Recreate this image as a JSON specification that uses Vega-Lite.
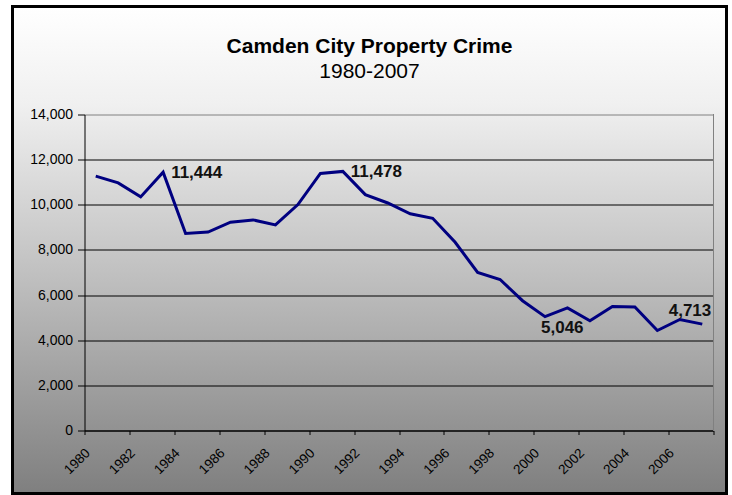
{
  "$schema": "https://vega.github.io/schema/vega-lite/v6.json",
  "width": 714,
  "height": 487,
  "autosize": {"type": "none"},
  "padding": {"left": 12.5, "top": 6.5, "right": 5.5, "bottom": 1.5},
  "background": "white",
  "title": {
    "text": "Camden City Property Crime",
    "subtitle": "1980-2007",
    "anchor": "middle",
    "offset": -75,
    "font": "Liberation Sans",
    "fontSize": 21,
    "fontWeight": "bold",
    "color": "black",
    "subtitleFont": "Liberation Sans",
    "subtitleFontSize": 21,
    "subtitleFontWeight": "normal",
    "subtitleColor": "black",
    "subtitlePadding": 4
  },
  "data": {
    "values": [
      {"year": 1980, "crimes": 11270},
      {"year": 1981, "crimes": 10970},
      {"year": 1982, "crimes": 10350},
      {"year": 1983, "crimes": 11444},
      {"year": 1984, "crimes": 8730},
      {"year": 1985, "crimes": 8790},
      {"year": 1986, "crimes": 9230},
      {"year": 1987, "crimes": 9330},
      {"year": 1988, "crimes": 9110},
      {"year": 1989, "crimes": 10010},
      {"year": 1990, "crimes": 11390},
      {"year": 1991, "crimes": 11478},
      {"year": 1992, "crimes": 10450},
      {"year": 1993, "crimes": 10080},
      {"year": 1994, "crimes": 9600},
      {"year": 1995, "crimes": 9400},
      {"year": 1996, "crimes": 8340},
      {"year": 1997, "crimes": 7000},
      {"year": 1998, "crimes": 6690},
      {"year": 1999, "crimes": 5750},
      {"year": 2000, "crimes": 5046},
      {"year": 2001, "crimes": 5430},
      {"year": 2002, "crimes": 4860},
      {"year": 2003, "crimes": 5490},
      {"year": 2004, "crimes": 5470},
      {"year": 2005, "crimes": 4430},
      {"year": 2006, "crimes": 4920},
      {"year": 2007, "crimes": 4713}
    ]
  },
  "layer": [
    {
      "mark": {"type": "rule", "color": "#808080", "strokeWidth": 1},
      "encoding": {
        "x": {"datum": 2007.5, "type": "quantitative"},
        "y": {"datum": 0, "type": "quantitative"},
        "y2": {"datum": 14000}
      }
    },
    {
      "mark": {"type": "line", "color": "#000080", "strokeWidth": 3, "strokeJoin": "miter"},
      "encoding": {
        "x": {
          "field": "year",
          "type": "quantitative",
          "scale": {"domain": [1979.5, 2007.5], "range": [72, 701], "nice": false, "zero": false},
          "axis": {
            "title": null,
            "orient": "bottom",
            "offset": -63,
            "values": [1979.5, 1980.5, 1981.5, 1982.5, 1983.5, 1984.5, 1985.5, 1986.5, 1987.5, 1988.5, 1989.5, 1990.5, 1991.5, 1992.5, 1993.5, 1994.5, 1995.5, 1996.5, 1997.5, 1998.5, 1999.5, 2000.5, 2001.5, 2002.5, 2003.5, 2004.5, 2005.5, 2006.5, 2007.5],
            "labelExpr": "(datum.value + 0.5) % 2 == 0 && datum.value < 2007 ? format(datum.value + 0.5, 'd') : ''",
            "labelAngle": -45,
            "labelAlign": "right",
            "labelBaseline": "middle",
            "labelOffset": 3,
            "labelPadding": 16,
            "labelOverlap": false,
            "labelFlush": false,
            "labelBound": false,
            "labelFont": "Liberation Sans",
            "labelFontSize": 13.5,
            "labelColor": "black",
            "tickSize": 4,
            "tickColor": "black",
            "domainColor": "black",
            "grid": false
          }
        },
        "y": {
          "field": "crimes",
          "type": "quantitative",
          "scale": {"domain": [0, 14000], "range": [424, 108], "nice": false, "zero": true},
          "axis": {
            "title": null,
            "orient": "left",
            "offset": -72,
            "values": [0, 2000, 4000, 6000, 8000, 10000, 12000, 14000],
            "labelExpr": "format(datum.value, ',')",
            "labelFont": "Liberation Sans",
            "labelFontSize": 14,
            "labelColor": "black",
            "labelPadding": 5,
            "tickSize": 7,
            "tickColor": "black",
            "domainColor": "black",
            "grid": true,
            "gridColor": {"condition": {"test": "datum.value == 14000", "value": "#808080"}, "value": "#000000"},
            "gridWidth": 1
          }
        }
      }
    },
    {
      "transform": [{"filter": "datum.year == 1983 || datum.year == 1991"}],
      "mark": {"type": "text", "align": "left", "baseline": "middle", "dx": 8, "dy": 1, "font": "Liberation Sans", "fontSize": 17, "fontWeight": "bold", "color": "#111111"},
      "encoding": {
        "x": {"field": "year", "type": "quantitative"},
        "y": {"field": "crimes", "type": "quantitative"},
        "text": {"field": "crimes", "type": "quantitative", "format": ","}
      }
    },
    {
      "transform": [{"filter": "datum.year == 2000"}],
      "mark": {"type": "text", "align": "left", "baseline": "middle", "dx": -4, "dy": 11, "font": "Liberation Sans", "fontSize": 17, "fontWeight": "bold", "color": "#111111"},
      "encoding": {
        "x": {"field": "year", "type": "quantitative"},
        "y": {"field": "crimes", "type": "quantitative"},
        "text": {"field": "crimes", "type": "quantitative", "format": ","}
      }
    },
    {
      "transform": [{"filter": "datum.year == 2007"}],
      "mark": {"type": "text", "align": "right", "baseline": "middle", "dx": 9, "dy": -13, "font": "Liberation Sans", "fontSize": 17, "fontWeight": "bold", "color": "#111111"},
      "encoding": {
        "x": {"field": "year", "type": "quantitative"},
        "y": {"field": "crimes", "type": "quantitative"},
        "text": {"field": "crimes", "type": "quantitative", "format": ","}
      }
    }
  ],
  "config": {
    "view": {
      "fill": {
        "gradient": "linear",
        "x1": 0, "y1": 0, "x2": 0, "y2": 1,
        "stops": [
          {"offset": 0, "color": "#ffffff"},
          {"offset": 0.2, "color": "#f0f0f0"},
          {"offset": 0.55, "color": "#c0c0c0"},
          {"offset": 1, "color": "#7f7f7f"}
        ]
      },
      "stroke": "black",
      "strokeWidth": 3
    },
    "axis": {"domainWidth": 1, "tickWidth": 1}
  }
}
